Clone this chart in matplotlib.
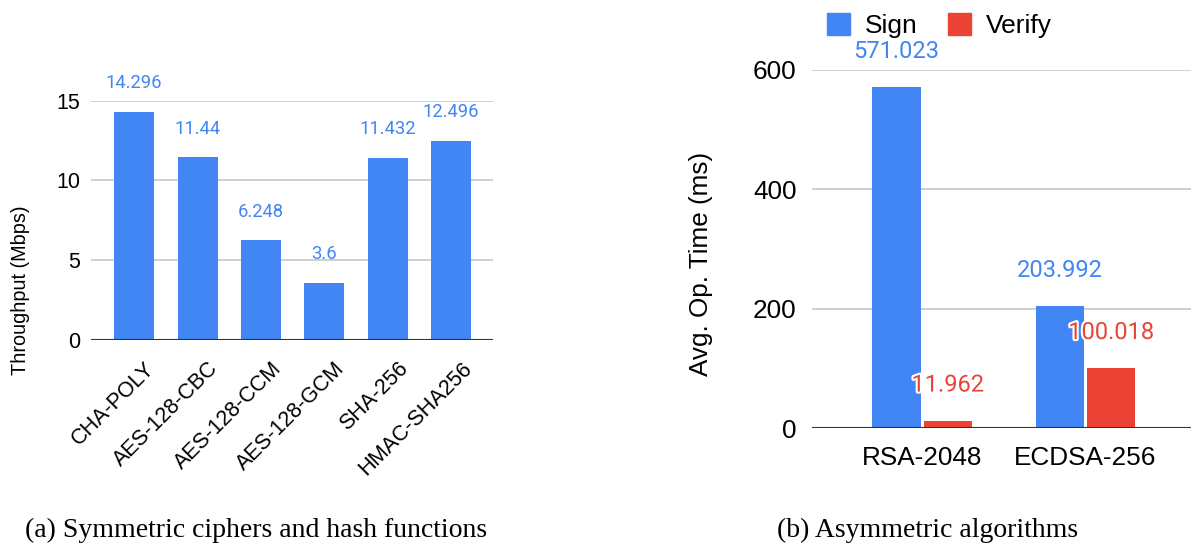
import numpy as np
import matplotlib.pyplot as plt
import matplotlib.patheffects as pe
import matplotlib.transforms as mtransforms
from matplotlib.patches import Patch

# Throughput of symmetric primitives
sym_names = ["CHA-POLY", "AES-128-CBC", "AES-128-CCM", "AES-128-GCM", "SHA-256", "HMAC-SHA256"]
sym_mbps = [14.296, 11.44, 6.248, 3.6, 11.432, 12.496]

# Average operation time of asymmetric algorithms
asym_names = ["RSA-2048", "ECDSA-256"]
sign_ms = [571.023, 203.992]
verify_ms = [11.962, 100.018]

BLUE = "#4285F4"
RED = "#EA4335"
GRID = "#cccccc"
AXIS = "#333333"
SANS = ["Liberation Sans", "DejaVu Sans"]
ROBOTO = ["Roboto", "DejaVu Sans"]
SERIF = ["Liberation Serif", "DejaVu Serif"]

fig = plt.figure(figsize=(11.91, 5.46), dpi=100)


def style_axes(ax, ticks, tick_size, pad):
    for s in ax.spines.values():
        s.set_visible(False)
    ax.set_yticks(ticks)
    for t in ticks[1:]:
        ax.axhline(t, color=GRID, lw=1.3, zorder=0)
    ax.axhline(0, color=AXIS, lw=1.5, zorder=3)
    ax.tick_params(axis="both", length=0, labelsize=tick_size)
    ax.tick_params(axis="y", pad=pad)
    for lab in ax.get_yticklabels():
        lab.set_family(SANS)


# (a) symmetric ciphers and hash functions
ax1 = fig.add_axes([0.0764, 0.3773, 0.3376, 0.4383])
x1 = np.arange(len(sym_names))
ax1.bar(x1, sym_mbps, width=0.63, color=BLUE, zorder=2)
ax1.set_xlim(-0.68, 5.66)
ax1.set_ylim(0, 15)
style_axes(ax1, [0, 5, 10, 15], 15.5, 8)
ax1.set_xticks(x1)
ax1.set_xticklabels(sym_names, rotation=45, ha="right", rotation_mode="anchor",
                    family=SANS, fontsize=15.5)
ax1.tick_params(axis="x", pad=8)
shift = mtransforms.ScaledTranslation(0.10, -0.07, fig.dpi_scale_trans)
for lab in ax1.get_xticklabels():
    lab.set_transform(lab.get_transform() + shift)
ax1.set_ylabel("Throughput (Mbps)", family=SANS, fontsize=14.3)
ax1.yaxis.set_label_coords(-0.152, 0.209)
for xi, v in zip(x1, sym_mbps):
    ax1.annotate(f"{v:g}", (xi, v), xytext=(0, 14), textcoords="offset points",
                 ha="center", va="bottom", color=BLUE, fontsize=13.2,
                 family=ROBOTO, annotation_clip=False)

# (b) asymmetric algorithms
ax2 = fig.add_axes([0.6818, 0.2161, 0.3182, 0.6557])
x2 = np.arange(len(asym_names))
w = 0.295
off = 0.157
ax2.bar(x2 - off, sign_ms, width=w, color=BLUE, zorder=2, label="Sign")
ax2.bar(x2 + off, verify_ms, width=w, color=RED, zorder=2, label="Verify")
ax2.set_xlim(-0.673, 1.645)
ax2.set_ylim(0, 600)
style_axes(ax2, [0, 200, 400, 600], 18.8, 11)
ax2.set_xticks(x2)
ax2.set_xticklabels(asym_names, family=SANS, fontsize=18.8)
ax2.tick_params(axis="x", pad=13)
ax2.set_ylabel("Avg. Op. Time (ms)", family=SANS, fontsize=18.8)
ax2.yaxis.set_label_coords(-0.261, 0.457)
halo = [pe.withStroke(linewidth=3, foreground="white")]
for xi, v in zip(x2 - off, sign_ms):
    ax2.annotate(f"{v:g}", (xi, v), xytext=(0, 17.5), textcoords="offset points",
                 ha="center", va="bottom", color=BLUE, fontsize=17,
                 family=ROBOTO, annotation_clip=False)
for xi, v in zip(x2 + off, verify_ms):
    ax2.annotate(f"{v:g}", (xi, v), xytext=(0, 17.5), textcoords="offset points",
                 ha="center", va="bottom", color=RED, fontsize=17,
                 family=ROBOTO, annotation_clip=False, path_effects=halo, zorder=5)

handles = [Patch(color=BLUE, label="Sign"), Patch(color=RED, label="Verify")]
fig.legend(handles=handles, loc="center left", bbox_to_anchor=(0.6944, 0.953),
           ncol=2, frameon=False, prop={"family": SANS, "size": 19},
           handlelength=0.87, handleheight=0.87, handletextpad=0.57,
           columnspacing=1.15, borderaxespad=0, borderpad=0)

# captions
fig.text(0.215, 0.028, "(a) Symmetric ciphers and hash functions", ha="center",
         va="center", family=SERIF, fontsize=20)
fig.text(0.779, 0.028, "(b) Asymmetric algorithms", ha="center",
         va="center", family=SERIF, fontsize=20)

fig.savefig("out.png", dpi=100)
